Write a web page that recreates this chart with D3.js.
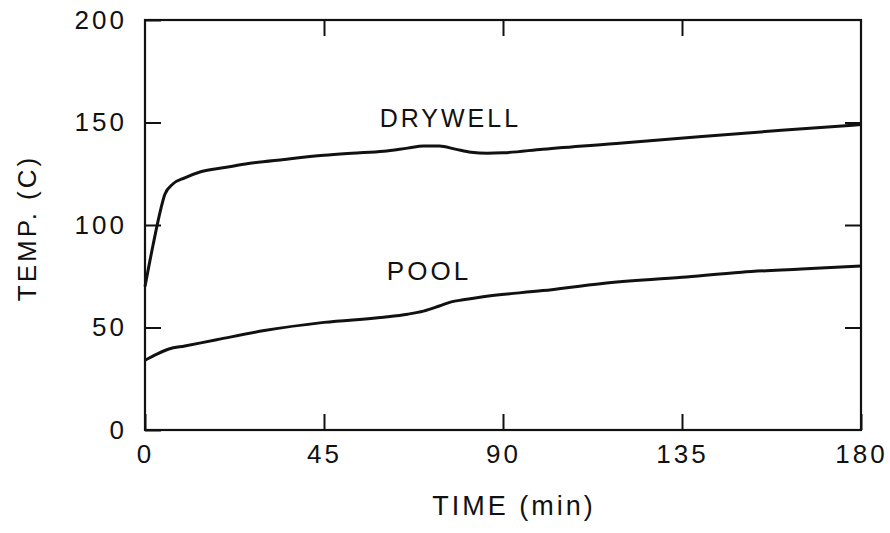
<!DOCTYPE html>
<html>
<head>
<meta charset="utf-8">
<script src="https://cdn.jsdelivr.net/npm/d3@7"></script>
<style>
  body { margin: 0; background: #fff; }
  text { font-family: "Liberation Sans", Arial, sans-serif; fill: #111; }
</style>
</head>
<body>
<svg id="chart"></svg>
<script>
// values
const dryTime = [0, 2, 4, 5, 7, 10, 14, 20, 26, 35, 45, 52, 60, 66, 70, 74, 78, 82, 86, 90, 100, 120, 140, 160, 180];
const dryTemp = [70, 90, 108, 115, 120, 123, 126, 128, 130, 132, 134, 135, 136, 137.5, 138.5, 138.5, 137, 135.5, 135, 135.2, 137, 140, 143.2, 146.2, 149];

const poolTime = [0, 3, 6, 10, 18, 30, 45, 60, 66, 70, 74, 77, 80, 85, 100, 115, 135, 150, 165, 180];
const poolTemp = [34, 37, 39.5, 41, 44, 48.5, 52.5, 55, 56.5, 58, 60.5, 62.5, 63.5, 65, 68, 71.5, 74.5, 77, 78.5, 80];

const xTicks = [0, 45, 90, 135, 180];
const yTicks = [0, 50, 100, 150, 200];

const width = 890, height = 533;
const margin = {top: 20, right: 29, bottom: 103, left: 145};

const svg = d3.select("#chart")
    .attr("width", width)
    .attr("height", height);

const x = d3.scaleLinear().domain([0, 180]).range([margin.left, width - margin.right]);
const y = d3.scaleLinear().domain([0, 200]).range([height - margin.bottom, margin.top]);

// frame
svg.append("rect")
    .attr("x", x(0)).attr("y", y(200))
    .attr("width", x(180) - x(0)).attr("height", y(0) - y(200))
    .attr("fill", "none").attr("stroke", "#111").attr("stroke-width", 2.2);

const tickLen = 16;

function styleAxis(g) {
    g.select(".domain").remove();
    g.selectAll(".tick line").attr("stroke", "#111").attr("stroke-width", 2);
    g.selectAll("text")
        .style("font-size", "26px")
        .style("letter-spacing", "3px")
        .attr("fill", "#111");
}

// bottom axis with labels
svg.append("g")
    .attr("transform", `translate(0,${y(0)})`)
    .call(d3.axisBottom(x).tickValues(xTicks).tickSizeInner(-tickLen).tickSizeOuter(0).tickPadding(15))
    .call(styleAxis);

// left axis with labels
svg.append("g")
    .attr("transform", `translate(${x(0)},0)`)
    .call(d3.axisLeft(y).tickValues(yTicks).tickSizeInner(-tickLen).tickSizeOuter(0).tickPadding(18))
    .call(styleAxis);

// top and right ticks, no labels
svg.append("g")
    .attr("transform", `translate(0,${y(200)})`)
    .call(d3.axisTop(x).tickValues(xTicks.slice(1, -1)).tickSizeInner(-tickLen).tickSizeOuter(0).tickFormat(""))
    .call(styleAxis);

svg.append("g")
    .attr("transform", `translate(${x(180)},0)`)
    .call(d3.axisRight(y).tickValues(yTicks.slice(1, -1)).tickSizeInner(-tickLen).tickSizeOuter(0).tickFormat(""))
    .call(styleAxis);

// curves
const line = d3.line()
    .x(d => x(d[0]))
    .y(d => y(d[1]))
    .curve(d3.curveMonotoneX);

svg.append("path")
    .datum(d3.zip(dryTime, dryTemp))
    .attr("d", line)
    .attr("fill", "none").attr("stroke", "#111").attr("stroke-width", 3);

svg.append("path")
    .datum(d3.zip(poolTime, poolTemp))
    .attr("d", line)
    .attr("fill", "none").attr("stroke", "#111").attr("stroke-width", 3);

// curve labels
svg.append("text")
    .attr("x", x(59)).attr("y", y(148))
    .style("font-size", "25px").style("letter-spacing", "3px")
    .text("DRYWELL");

svg.append("text")
    .attr("x", x(60.8)).attr("y", y(73))
    .style("font-size", "26px").style("letter-spacing", "3px")
    .text("POOL");

// axis titles
svg.append("text")
    .attr("x", 514).attr("y", 515)
    .attr("text-anchor", "middle")
    .style("font-size", "27px").style("letter-spacing", "3px")
    .text("TIME (min)");

svg.append("text")
    .attr("transform", "translate(36,228) rotate(-90)")
    .attr("text-anchor", "middle")
    .style("font-size", "26px").style("letter-spacing", "3px")
    .text("TEMP. (C)");
</script>
</body>
</html>
